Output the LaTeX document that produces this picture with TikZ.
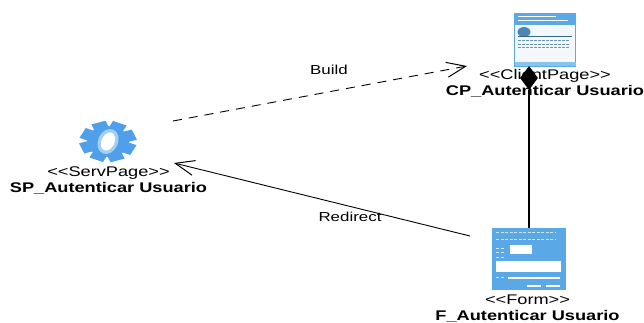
\documentclass[tikz,border=0pt]{standalone}
\usepackage{fontspec}
\setmainfont{Liberation Sans}
\usetikzlibrary{arrows.meta,shapes.geometric}
\definecolor{iconblue}{HTML}{5AA9E6}
\definecolor{gearblue}{HTML}{4F9FEA}
\tikzset{
	stereo/.style={align=center,inner sep=0pt,xscale=1.3,transform shape,font=\fontsize{14}{16}\selectfont},
	linklabel/.style={inner sep=0pt,xscale=1.3,transform shape,font=\fontsize{13}{15}\selectfont},
	icon/.style={fill=iconblue,inner sep=0pt},
	openhead/.style={-{Straight Barb[length=19pt,width=15pt,line width=1pt]}}
}
\begin{document}
\begin{tikzpicture}[x=1pt,y=-1pt]
	\useasboundingbox (0,0) rectangle (644,323);
	% gear
	\foreach \a in {0,45,...,315}
	{
		\fill[gearblue,shift={(108,141.5)},yscale=0.72,rotate=\a+20] (-7.5,-18) rectangle (7.5,-28);
	}
	\fill[gearblue] (108,141.5) ellipse (21pt and 15.5pt);
	\fill[iconblue!55,rotate around={-25:(108,141.5)}] (108,141.5) ellipse (10pt and 13pt);
	\fill[white,rotate around={-25:(108,141.5)}] (108,141.5) ellipse (6.5pt and 9.5pt);
	\node[stereo] (sp) at (108.5,180) {<{}<ServPage>{}>\\\textbf{SP\_Autenticar Usuario}};
	% client page
	\node[icon,fill=iconblue!8,draw=iconblue,line width=0.6pt,minimum width=61pt,minimum height=53pt] (cp) at (545,39.5) {};
	\fill[iconblue] (514.5,13.5) rectangle (575.5,25);
	\fill[iconblue!70] (514.5,62) rectangle (575.5,66);
	\fill[white] (518,16.5) rectangle (556,17.5);
	\fill[white] (518,20.5) rectangle (568,21.5);
	\fill[iconblue!80!black] (524,32) ellipse (6.5pt and 5pt);
	\draw[iconblue!60!black,line width=0.5pt] (518,36) -- (572,36);
	\foreach \y in {40,44,47}
	{
		\draw[iconblue!50!gray,line width=0.8pt,dash pattern=on 3pt off 1pt] (518,\y) -- (570,\y);
	}
	\node[stereo] (cptext) at (545,83.5) {<{}<ClientPage>{}>\\\textbf{CP\_Autenticar Usuario}};
	% form
	\node[icon,minimum width=74pt,minimum height=62pt] (fi) at (529,259) {};
	\fill[white] (510,245) rectangle (532,254);
	\fill[white] (496,261) rectangle (561,272);
	\fill[white] (508,277) rectangle (560,279);
	\fill[white] (527,285) rectangle (541,287);
	\fill[white] (546,285) rectangle (560,287);
	\foreach \y in {232,239,248,252,257,277}
	{
		\draw[white!70!iconblue,line width=0.8pt,dash pattern=on 3pt off 1.5pt] (496,\y) -- (\ifnum\y<240 555\else 505\fi,\y);
	}
	\node[stereo] (ftext) at (527.5,308.5) {<{}<Form>{}>\\\textbf{F\_Autenticar Usuario}};
	% links
	\coordinate (bstart) at (173,121);
	\coordinate (bend) at (467,66);
	\coordinate (rstart) at (470,236);
	\coordinate (rend) at (174,163);
	\draw[dash pattern=on 9pt off 7pt,line width=0.9pt,openhead] (bstart) -- (bend);
	\draw[line width=0.9pt,openhead] (rstart) -- (rend);
	\node[linklabel] (build) at (329,70) {Build};
	\node[linklabel] (redirect) at (350,216.5) {Redirect};
	\node[diamond,fill=black,inner sep=0pt,minimum width=18pt,minimum height=24pt] (dia) at (529,78) {};
	\draw[line width=1.3pt] (dia) -- (fi);
\end{tikzpicture}
\end{document}
